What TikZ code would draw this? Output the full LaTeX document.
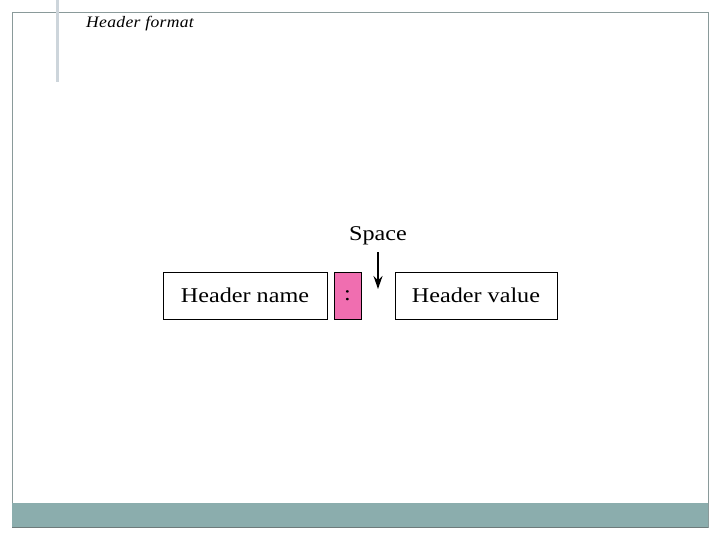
\documentclass[tikz,border=0pt]{standalone}
\usepackage{fontspec}
\setmainfont{Liberation Serif}
\newfontfamily\widefont[FakeStretch=1.15]{Liberation Serif}
\newfontfamily\titlefont[FakeStretch=1.1, LetterSpace=2]{Liberation Serif}
\usetikzlibrary{arrows.meta}
\definecolor{barteal}{HTML}{8BADAD}
\definecolor{framegray}{HTML}{8A9A9A}
\definecolor{leftbar}{HTML}{CDD5DB}
\definecolor{colonpink}{HTML}{F06EB0}
\begin{document}
\begin{tikzpicture}[x=1pt,y=-1pt,
  field/.style={draw=black, line width=1pt, minimum height=47pt, inner sep=0pt, font=\widefont\fontsize{21}{24}\selectfont},
  arr/.style={-{Stealth[length=13pt,width=9pt]}, line width=1.5pt}]
\useasboundingbox (0,0) rectangle (720,540);
\fill[white] (0,0) rectangle (720,540);
% frame
\draw[framegray, line width=0.8pt] (12,12) rectangle (708,527);
\fill[barteal] (12,503) rectangle (708,527);
\draw[framegray!80!black, line width=0.8pt] (12,527) -- (708,527);
\fill[leftbar] (55.5,0) rectangle (58.5,82);
% title
\node[anchor=base west, inner sep=0pt, font=\titlefont\fontsize{16}{18}\selectfont\itshape] (title) at (86,28) {Header format};
% fields
\node[field, minimum width=164pt] (hname) at (245,295.5) {Header name};
\node[field, minimum width=27pt, fill=colonpink] (colon) at (347.5,295.5) {:};
\node[field, minimum width=162pt] (hvalue) at (476,295.5) {Header value};
\node[inner sep=0pt, font=\widefont\fontsize{21}{24}\selectfont] (space) at (378,236) {Space};
\coordinate (top) at (378,252);
\coordinate (tip) at (378,289);
\draw[arr] (top) -- (tip);
\end{tikzpicture}
\end{document}
